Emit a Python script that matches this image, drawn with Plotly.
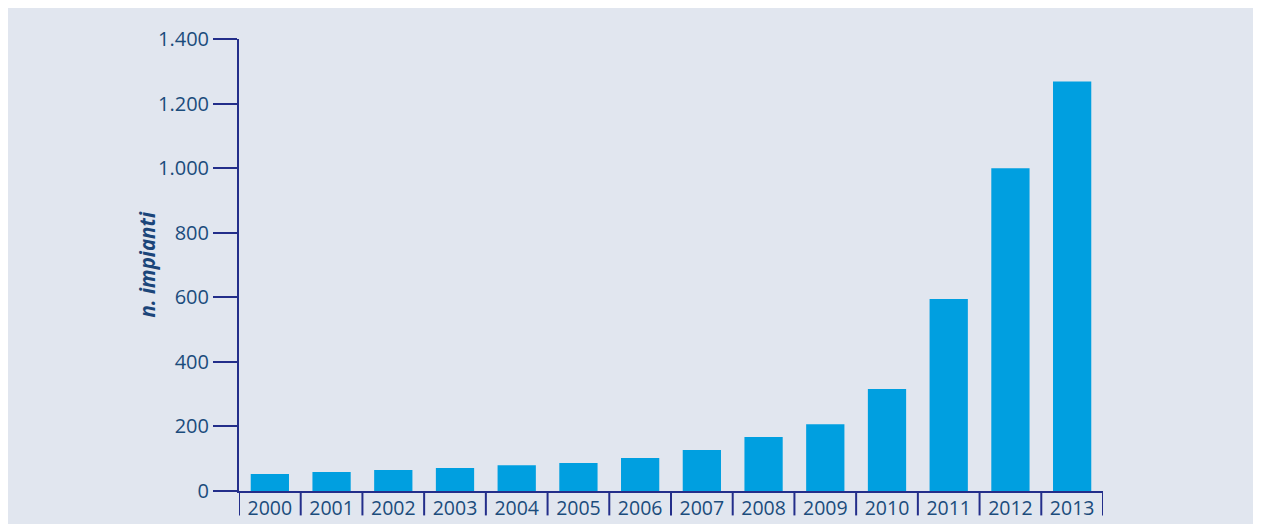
import plotly.graph_objects as go

years = ["2000", "2001", "2002", "2003", "2004", "2005", "2006",
         "2007", "2008", "2009", "2010", "2011", "2012", "2013"]
impianti = [53, 59, 65, 71, 80, 87, 102, 127, 167, 207, 316, 595, 1000, 1268]
y_ticks = [0, 200, 400, 600, 800, 1000, 1200, 1400]
y_title = "n. impianti"

BG = "#E1E6EF"
BAR = "#009FE0"
AXIS = "#232E8A"
LABEL = "#1B4C7C"
FONT = "Open Sans"

fig = go.Figure()
fig.add_trace(go.Bar(x=years, y=impianti, marker=dict(color=BAR, line=dict(width=0)),
                     hoverinfo="x+y"))

# category dividers below the x axis
shapes = []
for i in range(len(years) + 1):
    shapes.append(dict(type="line", xref="x", yref="paper",
                       x0=i - 0.5, x1=i - 0.5, y0=0, y1=-0.054,
                       line=dict(color=AXIS, width=2)))

fig.update_layout(
    width=1262, height=517,
    margin=dict(l=231, r=167, t=31, b=34),
    paper_bgcolor=BG, plot_bgcolor=BG,
    separators=",.",
    bargap=0.38,
    showlegend=False,
    font=dict(family=FONT, size=19.5, color=LABEL),
    shapes=shapes,
    xaxis=dict(type="category", range=[-0.5, len(years) - 0.5],
               showline=True, linecolor=AXIS, linewidth=2,
               ticks="", showgrid=False, zeroline=False, automargin=False,
               tickfont=dict(family=FONT, size=19.5, color=LABEL),
               ticklabelstandoff=-1),
    yaxis=dict(range=[0, 1400], tickvals=y_ticks, tickformat=",",
               showline=True, linecolor=AXIS, linewidth=2,
               ticks="outside", ticklen=24, tickwidth=2, tickcolor=AXIS,
               showgrid=False, zeroline=False, automargin=False,
               tickfont=dict(family=FONT, size=20, color=LABEL)),
    annotations=[dict(text=y_title, xref="paper", yref="paper",
                      x=-0.107, y=0.5, textangle=-90, showarrow=False,
                      xanchor="center", yanchor="middle",
                      font=dict(family=FONT, size=20.5, color="#1B4579",
                                style="italic", weight="bold"))],
)

fig.write_html("out.html")
